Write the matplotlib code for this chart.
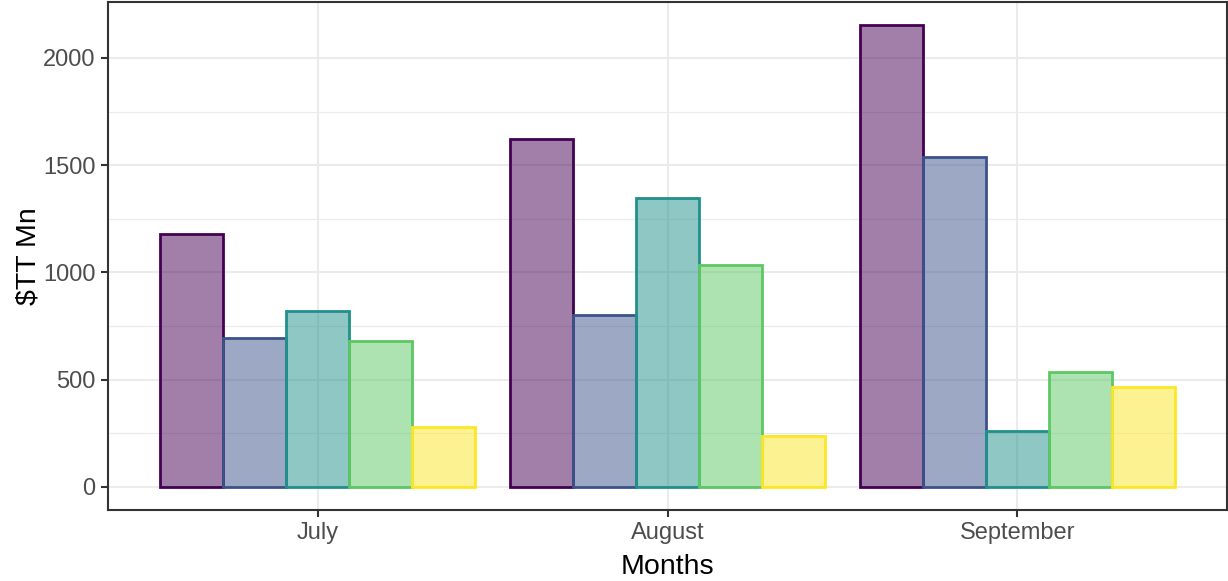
import numpy as np
import matplotlib.pyplot as plt

plt.rcParams['font.family'] = ['Liberation Sans', 'DejaVu Sans']

months = ['July', 'August', 'September']
series_1 = [1179, 1624, 2153]
series_2 = [693, 803, 1536]
series_3 = [821, 1346, 260]
series_4 = [679, 1035, 534]
series_5 = [278, 237, 464]
series = [series_1, series_2, series_3, series_4, series_5]
colours = ['#440154', '#3B528B', '#21908C', '#5DC863', '#FDE725']

fig = plt.figure(figsize=(12.28, 5.81), dpi=100)
ax = fig.add_axes([108 / 1228, 71 / 581, 1119 / 1228, 508 / 581])

x = np.arange(len(months))
w = 0.9 / len(series)
for i, (vals, c) in enumerate(zip(series, colours)):
    ax.bar(x - 0.45 + w * (i + 0.5), vals, width=w, color=c, alpha=0.5,
           edgecolor='none', zorder=2)
    ax.bar(x - 0.45 + w * (i + 0.5), vals, width=w, facecolor='none',
           edgecolor=c, linewidth=2, zorder=3)

ax.set_xlim(-0.6, 2.6)
top = max(max(s) for s in series)
ax.set_ylim(-0.05 * top, 1.05 * top)
ax.set_yticks([0, 500, 1000, 1500, 2000])
ax.set_yticks([250, 750, 1250, 1750], minor=True)
ax.set_xticks(x)
ax.set_xticklabels(months)

ax.grid(True, which='major', color='#EBEBEB', linewidth=1.5, zorder=0)
ax.grid(True, which='minor', axis='y', color='#EBEBEB', linewidth=0.8, zorder=0)
ax.set_axisbelow(True)
ax.tick_params(which='minor', length=0)
ax.tick_params(which='major', length=5, width=1.5, color='#333333',
               labelsize=17, labelcolor='#4D4D4D', pad=4)
for sp in ax.spines.values():
    sp.set_color('#333333')
    sp.set_linewidth(1.5)

ax.set_xlabel('Months', fontsize=20.5, labelpad=7)
ax.set_ylabel('$TT Mn', fontsize=20.5, labelpad=1)

fig.savefig('out.png', dpi=100)
